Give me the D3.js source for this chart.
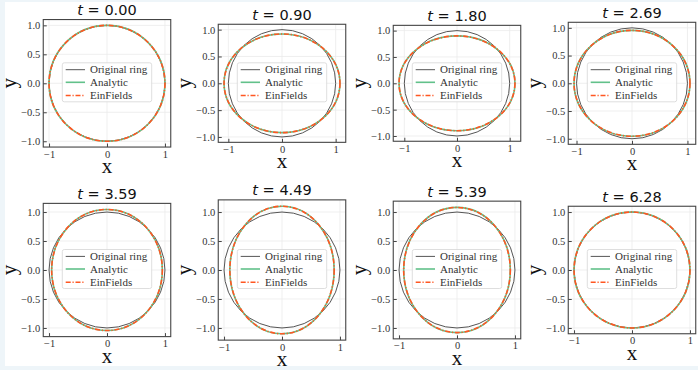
<!DOCTYPE html>
<html>
<head>
<meta charset="utf-8">
<script src="https://cdn.jsdelivr.net/npm/d3@7"></script>
<style>
  body { margin: 0; background: #eef5f9; }
  svg { display: block; }
</style>
</head>
<body>
<svg id="canvas" width="698" height="370"></svg>
<script>
// snapshot times, one panel each
var times = ['0.00', '0.90', '1.80', '2.69', '3.59', '4.49', '5.39', '6.28'];
// semi-axes of the rings (x and y)
var originalRadius = [1, 1, 1, 1, 1, 1, 1, 1];
var analyticX = [1.0, 1.08, 1.1, 1.045, 0.955, 0.9, 0.92, 1.0];
var analyticY = [1.0, 0.92, 0.9, 0.955, 1.045, 1.1, 1.08, 1.0];
var einfieldsX = [1.0, 1.08, 1.1, 1.045, 0.955, 0.9, 0.92, 1.0];
var einfieldsY = [1.0, 0.92, 0.9, 0.955, 1.045, 1.1, 1.08, 1.0];
var xTicks = [-1, 0, 1];
var yTicks = [-1, -0.5, 0, 0.5, 1];
var legendLabels = ['Original ring', 'Analytic', 'EinFields'];

var colors = ['#555555', '#62c18a', '#ff5722'];
var serif = '"Liberation Serif", "Times New Roman", serif';

var svg = d3.select('#canvas');
svg.append('rect')
  .attr('x', 5).attr('y', 2)
  .attr('width', 693).attr('height', 364)
  .attr('fill', '#ffffff');

var boxW = 127.5;
var colX = [107, 282, 457, 632];
var rowY = [83.3, 270];

times.forEach(function(t, i) {
  var cx = colX[i % 4];
  var cy = rowY[Math.floor(i / 4)];

  // matplotlib-like 5% margins and equal aspect
  var xm = d3.max([originalRadius[i], analyticX[i], einfieldsX[i]]) * 1.1;
  var ym = d3.max([originalRadius[i], analyticY[i], einfieldsY[i]]) * 1.1;
  var unit = boxW / (2 * xm);
  var boxH = unit * 2 * ym;
  var left = cx - boxW / 2;
  var top = cy - boxH / 2;

  var x = d3.scaleLinear().domain([-xm, xm]).range([left, left + boxW]);
  var y = d3.scaleLinear().domain([-ym, ym]).range([top + boxH, top]);

  var g = svg.append('g').attr('class', 'panel');

  // grid
  g.selectAll('.gx').data(xTicks).enter().append('line')
    .attr('x1', d => x(d)).attr('x2', d => x(d))
    .attr('y1', top).attr('y2', top + boxH)
    .attr('stroke', '#ebebeb').attr('stroke-width', 0.8);
  g.selectAll('.gy').data(yTicks).enter().append('line')
    .attr('y1', d => y(d)).attr('y2', d => y(d))
    .attr('x1', left).attr('x2', left + boxW)
    .attr('stroke', '#ebebeb').attr('stroke-width', 0.8);

  // rings
  var rings = [
    {rx: originalRadius[i], ry: originalRadius[i], c: colors[0], w: 1, dash: null},
    {rx: analyticX[i], ry: analyticY[i], c: colors[1], w: 1.6, dash: null},
    {rx: einfieldsX[i], ry: einfieldsY[i], c: colors[2], w: 1.6, dash: '5,1.8,1.2,1.8'},
  ];
  g.selectAll('.ring').data(rings).enter().append('ellipse')
    .attr('cx', x(0)).attr('cy', y(0))
    .attr('rx', d => x(d.rx) - x(0))
    .attr('ry', d => y(0) - y(d.ry))
    .attr('fill', 'none')
    .attr('stroke', d => d.c)
    .attr('stroke-width', d => d.w)
    .attr('stroke-dasharray', d => d.dash);

  // axes
  var xAxis = g.append('g')
    .attr('transform', 'translate(0,' + (top + boxH) + ')')
    .call(d3.axisBottom(x).tickValues(xTicks).tickFormat(d3.format('d'))
      .tickSizeInner(-3.5).tickSizeOuter(0).tickPadding(3));
  var yAxis = g.append('g')
    .attr('transform', 'translate(' + left + ',0)')
    .call(d3.axisLeft(y).tickValues(yTicks).tickFormat(d3.format('.1f'))
      .tickSizeInner(-3.5).tickSizeOuter(0).tickPadding(3));
  [xAxis, yAxis].forEach(function(a) {
    a.select('.domain').remove();
    a.selectAll('line').attr('stroke', '#444');
    a.selectAll('text')
      .style('font-family', serif)
      .style('font-size', '10.5px')
      .attr('fill', '#333');
  });

  // frame
  g.append('rect')
    .attr('x', left).attr('y', top)
    .attr('width', boxW).attr('height', boxH)
    .attr('fill', 'none').attr('stroke', '#444').attr('stroke-width', 1.1);

  // legend
  var lg = g.append('g').attr('transform', 'translate(' + cx + ',' + (cy - 1) + ')');
  lg.append('rect')
    .attr('x', -44.7).attr('y', -19.5)
    .attr('width', 89.4).attr('height', 39)
    .attr('rx', 2)
    .attr('fill', '#ffffff').attr('fill-opacity', 0.8)
    .attr('stroke', '#d6d6d6').attr('stroke-width', 0.8);
  var rowsY = [-12.6, 0, 13.2];
  legendLabels.forEach(function(lbl, k) {
    lg.append('line')
      .attr('x1', -41.3).attr('x2', -22)
      .attr('y1', rowsY[k]).attr('y2', rowsY[k])
      .attr('stroke', colors[k])
      .attr('stroke-width', rings[k].w)
      .attr('stroke-dasharray', rings[k].dash);
    lg.append('text')
      .attr('x', -17).attr('y', rowsY[k])
      .attr('dy', '0.34em')
      .style('font-family', serif)
      .style('font-size', '11px')
      .attr('fill', '#333')
      .text(lbl);
  });

  // title
  var title = g.append('text')
    .attr('x', cx).attr('y', top - 4.5)
    .attr('text-anchor', 'middle')
    .style('font-family', '"DejaVu Sans", sans-serif')
    .style('font-size', '14.5px')
    .attr('fill', '#111');
  title.append('tspan').style('font-style', 'italic').text('t');
  title.append('tspan').text(' = ' + t);

  // axis labels
  g.append('text')
    .attr('x', cx).attr('y', top + boxH + 26)
    .attr('text-anchor', 'middle')
    .style('font-family', serif)
    .style('font-size', '21px')
    .attr('fill', '#111')
    .text('x');
  g.append('text')
    .attr('transform', 'translate(' + (left - 34) + ',' + cy + ') rotate(-90)')
    .attr('text-anchor', 'middle')
    .attr('dy', '0.3em')
    .style('font-family', serif)
    .style('font-size', '21px')
    .attr('fill', '#111')
    .text('y');
});
</script>
</body>
</html>
